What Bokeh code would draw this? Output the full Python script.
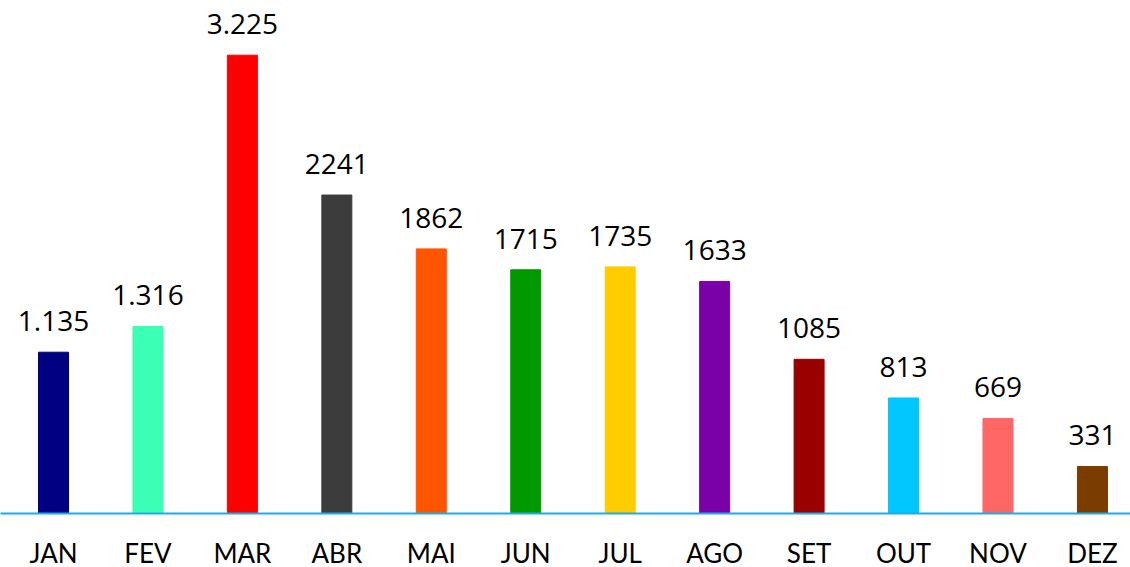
from bokeh.plotting import figure
from bokeh.models import ColumnDataSource, Range1d, FixedTicker
from bokeh.embed import file_html
from bokeh.resources import INLINE
from bokeh.core.properties import value

months = ["JAN", "FEV", "MAR", "ABR", "MAI", "JUN", "JUL", "AGO", "SET", "OUT", "NOV", "DEZ"]
values = [1135, 1316, 3225, 2241, 1862, 1715, 1735, 1633, 1085, 813, 669, 331]
value_labels = ["1.135", "1.316", "3.225", "2241", "1862", "1715", "1735", "1633", "1085", "813", "669", "331"]
colors = ["#000080", "#3BFFB4", "#FF0000", "#3C3C3C", "#FF5500", "#009900",
          "#FFCC00", "#7A00A8", "#990000", "#00C8FF", "#FF6666", "#7A3C00"]

xs = list(range(len(months)))
src = ColumnDataSource(dict(x=xs, top=values, color=colors, label=value_labels))

p = figure(frame_width=1130, frame_height=513, output_backend="svg", toolbar_location=None,
           x_range=Range1d(-0.5611, 11.403), y_range=Range1d(0, 3610),
           min_border_left=0, min_border_right=0, min_border_top=0, min_border_bottom=0)

p.vbar(x="x", top="top", bottom=0, width=0.3176, color="color", source=src)
p.text(x="x", y="top", text="label", source=src, text_align="center",
       text_baseline="alphabetic", y_offset=-31, text_font=value("Open Sans"),
       text_font_size="28px", text_color="#000000")

p.yaxis.visible = False
p.xgrid.visible = False
p.ygrid.visible = False
p.outline_line_color = None

ax = p.xaxis[0]
ax.ticker = FixedTicker(ticks=xs)
ax.major_label_overrides = {i: m for i, m in enumerate(months)}
ax.major_tick_line_color = None
ax.minor_tick_line_color = None
ax.major_tick_out = 0
ax.major_tick_in = 0
ax.axis_line_color = "#1EACE6"
ax.axis_line_width = 2
ax.major_label_text_font = "Lato"
ax.major_label_text_font_size = "26px"
ax.major_label_text_color = "#000000"
ax.major_label_standoff = 23

open("out.html", "w").write(file_html(p, INLINE))
